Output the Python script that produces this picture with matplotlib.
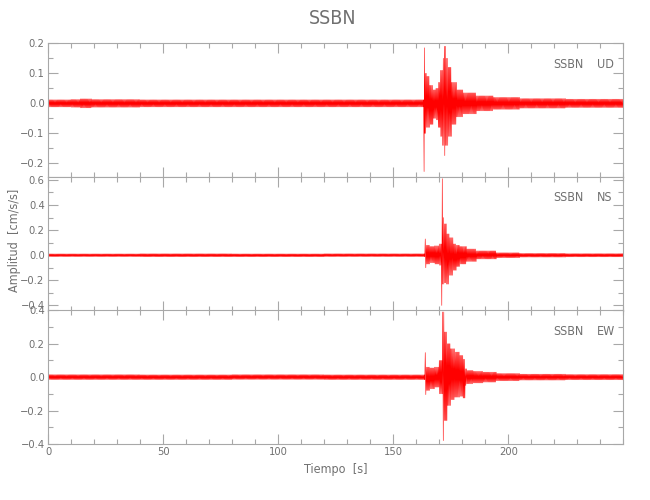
"""
plot.py - three-component accelerogram of station SSBN (UD / NS / EW).

Traces are drawn from envelope values (upper / lower amplitude per time bin)
read off the original record.

    python plot.py
"""
import numpy as np
import matplotlib

matplotlib.use("Agg")
import matplotlib.pyplot as plt

STATION = "SSBN"
COMPONENTS = ["UD", "NS", "EW"]
T_END = 250.0

# bin start times [s] and envelope (cm/s/s) per component
T_UD = [0, 10, 14, 19, 40, 60, 80, 100, 120, 140, 163.4, 163.7, 164.5, 165.9,
        167.4, 168.6, 169.6, 170.5, 171.5, 172.2, 172.8, 173.9, 175.4, 177.6,
        180.4, 186.2, 193.5, 205.1, 225]
HI_UD = [0.012, 0.013, 0.015, 0.013, 0.012, 0.012, 0.012, 0.012, 0.012, 0.012,
         0.185, 0.100, 0.090, 0.060, 0.045, 0.050, 0.070, 0.110, 0.150, 0.190,
         0.150, 0.120, 0.070, 0.045, 0.035, 0.025, 0.020, 0.016, 0.014]
LO_UD = [-0.012, -0.013, -0.015, -0.013, -0.012, -0.012, -0.012, -0.012, -0.012, -0.012,
         -0.227, -0.100, -0.080, -0.070, -0.050, -0.055, -0.080, -0.110, -0.140, -0.174,
         -0.140, -0.110, -0.070, -0.045, -0.035, -0.025, -0.020, -0.016, -0.014]

T_NS = [0, 40, 80, 120, 163.9, 164.4, 166, 168, 170, 171.1, 171.5, 172.2,
        173.2, 174.4, 176.1, 177.5, 179, 181.9, 186.2, 190.6, 194.9, 205, 225]
HI_NS = [0.011, 0.012, 0.011, 0.012, 0.130, 0.080, 0.070, 0.075, 0.090, 0.610,
         0.300, 0.250, 0.170, 0.140, 0.090, 0.080, 0.070, 0.050, 0.035, 0.035,
         0.020, 0.015, 0.013]
LO_NS = [-0.011, -0.012, -0.012, -0.011, -0.100, -0.070, -0.060, -0.070, -0.080, -0.400,
         -0.230, -0.220, -0.230, -0.160, -0.120, -0.090, -0.070, -0.050, -0.030, -0.030,
         -0.020, -0.015, -0.013]

T_EW = [0, 40, 80, 120, 163.9, 164.4, 166, 168, 170, 171.5, 172.2, 173.5, 175,
        176.8, 179, 180.4, 181.3, 182, 184.8, 189.1, 194.9, 205, 225]
HI_EW = [0.015, 0.014, 0.015, 0.014, 0.147, 0.060, 0.055, 0.060, 0.100, 0.390,
         0.270, 0.200, 0.170, 0.150, 0.130, 0.107, 0.050, 0.040, 0.035, 0.030,
         0.022, 0.018, 0.016]
LO_EW = [-0.015, -0.015, -0.014, -0.015, -0.105, -0.080, -0.070, -0.060, -0.100, -0.380,
         -0.260, -0.170, -0.135, -0.120, -0.115, -0.125, -0.050, -0.040, -0.035, -0.030,
         -0.022, -0.018, -0.016]

YLIMS = [(-0.245, 0.2), (-0.44, 0.625), (-0.4, 0.4)]
YTICKS = [[-0.2, -0.1, 0.0, 0.1, 0.2],
          [-0.4, -0.2, 0.0, 0.2, 0.4, 0.6],
          [-0.4, -0.2, 0.0, 0.2, 0.4]]
XTICKS = [0, 50, 100, 150, 200]

TXT = "#707070"
AXC = "#a8a8a8"
FONT = dict(family="DejaVu Sans", stretch="condensed", color=TXT)


def zigzag(starts, hi, lo, end, step=0.2):
    """Dense up/down line filling each bin between its envelope values."""
    bounds = list(starts) + [end]
    t, y = [], []
    k = 0
    for i in range(len(hi)):
        n = max(2, int(round((bounds[i + 1] - bounds[i]) / step)))
        for ts in np.linspace(bounds[i], bounds[i + 1], n, endpoint=False):
            t.append(ts)
            y.append(hi[i] if k % 2 == 0 else lo[i])
            k += 1
    return np.array(t), np.array(y)


def main() -> None:
    fig = plt.figure(figsize=(6.5, 5), dpi=100)
    left, width = 0.074, 0.885
    bottoms = [0.646, 0.379, 0.112]
    height = 0.2675

    data = [(T_UD, HI_UD, LO_UD), (T_NS, HI_NS, LO_NS), (T_EW, HI_EW, LO_EW)]
    for i, (comp, (ts, hi, lo)) in enumerate(zip(COMPONENTS, data)):
        ax = fig.add_axes([left, bottoms[i], width, height])
        t, y = zigzag(ts, hi, lo, T_END)
        ax.plot(t, y, color="#ff0000", lw=0.4)

        ax.set_xlim(0, T_END)
        ax.set_xticks(XTICKS)
        ax.set_xticks(np.arange(0, T_END + 1, 10), minor=True)
        ax.set_yticks(YTICKS[i])
        step = YTICKS[i][1] - YTICKS[i][0]
        ax.set_yticks(np.arange(YTICKS[i][0] - step / 2, YLIMS[i][1], step / 2), minor=True)
        ax.set_ylim(*YLIMS[i])
        ax.tick_params(which="both", direction="in", top=True, right=True,
                       color=AXC, labelcolor=TXT, labelsize=8, width=0.8)
        ax.tick_params(which="major", length=7, pad=2.5)
        ax.tick_params(which="minor", length=3.5)
        ax.set_yticklabels([f"{v:.1f}".replace("-", "\u2212") for v in YTICKS[i]],
                           fontstretch="condensed")
        if i < 2:
            ax.set_xticklabels([])
        else:
            ax.set_xticklabels([str(v) for v in XTICKS], fontstretch="condensed")
            ax.set_xlabel("Tiempo  [s]", fontsize=9, labelpad=4, **FONT)
        for s in ax.spines.values():
            s.set_color(AXC)
            s.set_linewidth(0.8)

        ax.annotate(STATION, xy=(1, 1), xycoords="axes fraction",
                    xytext=(-40, -21), textcoords="offset pixels",
                    ha="right", va="center", fontsize=9, **FONT)
        ax.annotate(comp, xy=(1, 1), xycoords="axes fraction",
                    xytext=(-26, -21), textcoords="offset pixels",
                    ha="left", va="center", fontsize=9, **FONT)

    fig.text(0.512, 0.963, STATION, ha="center", va="center", fontsize=14, **FONT)
    fig.text(0.022, 0.52, "Amplitud  [cm/s/s]", rotation=90, ha="center",
             va="center", fontsize=9, **FONT)

    fig.savefig("out.png", dpi=100)
    plt.close(fig)


if __name__ == "__main__":
    main()
